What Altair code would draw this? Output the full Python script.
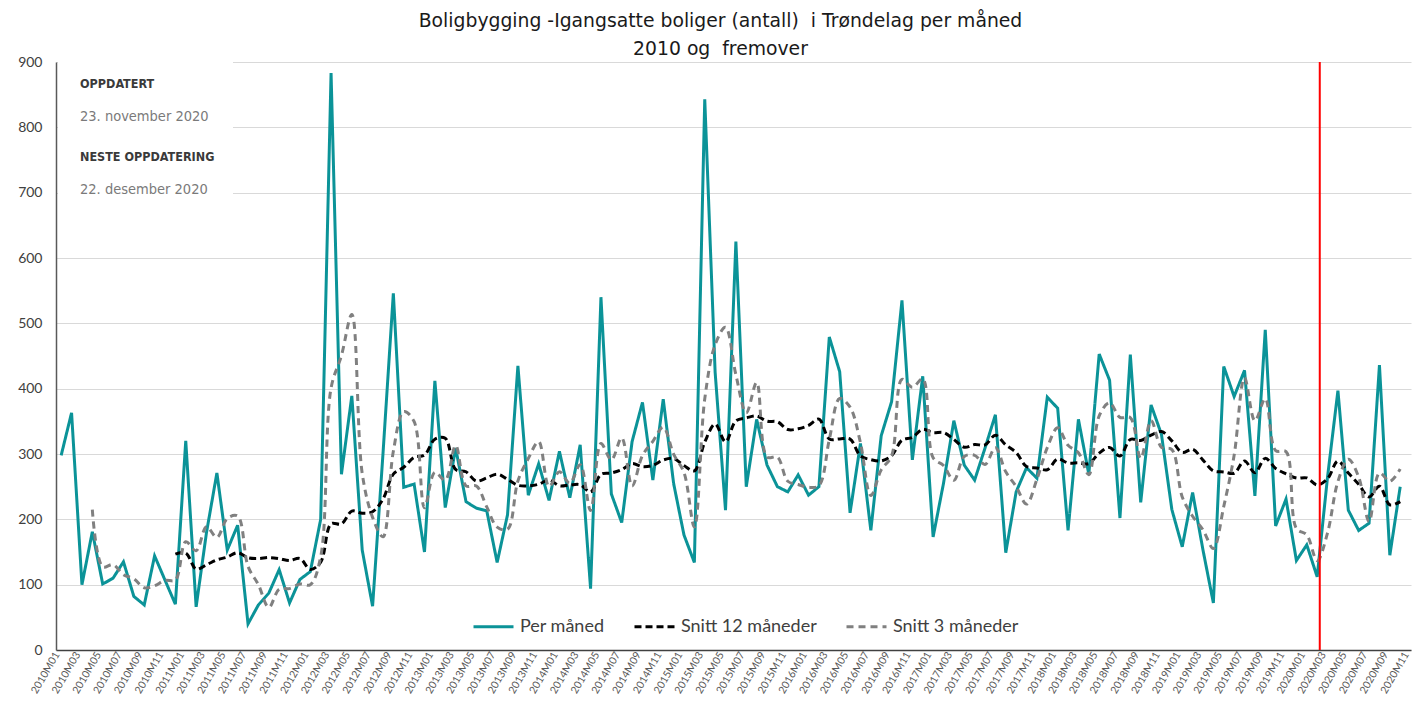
import altair as alt
import pandas as pd

# ---- categories (x-axis tick labels) ----
months = [f"{y}M{m:02d}" for y in range(2010, 2021) for m in range(1, 13)][:131]

# ---- series values ----
per_maned = [
    298, 363, 100, 181, 101, 110, 135, 82, 69, 144,
    107, 70, 320, 66, 180, 271, 153, 191, 40, 69,
    87, 123, 72, 108, 120, 200, 883, 269, 389, 153,
    67, 300, 546, 249, 254, 150, 412, 218, 309, 227,
    217, 213, 134, 207, 435, 237, 285, 229, 304, 233,
    314, 94, 540, 239, 195, 319, 379, 260, 384, 255,
    176, 134, 843, 425, 214, 625, 250, 353, 283, 250,
    242, 268, 237, 250, 479, 426, 210, 316, 183, 328,
    380, 535, 291, 419, 173, 255, 351, 283, 260, 309,
    360, 149, 242, 279, 263, 387, 370, 183, 353, 269,
    453, 413, 202, 452, 226, 375, 330, 215, 158, 241,
    153, 72, 434, 388, 428, 236, 490, 190, 231, 137,
    161, 112, 265, 397, 214, 183, 194, 436, 145, 250,
]
start_per_maned = "2010M01"

snitt_12 = [
    146.7, 148.5, 123.8, 130.4, 137.9, 142.3, 149.0, 141.1, 140.0, 141.5,
    139.8, 136.8, 140.0, 123.3, 134.5, 193.1, 192.9, 212.6, 209.4, 211.7,
    230.9, 269.2, 279.7, 294.8, 298.3, 322.7, 324.2, 276.3, 272.8, 258.5,
    263.5, 269.1, 261.3, 252.1, 251.1, 253.7, 260.3, 251.3, 252.5, 252.9,
    241.8, 268.8, 270.9, 276.0, 285.3, 280.7, 282.6, 290.8, 293.0, 282.3,
    274.1, 318.2, 345.8, 318.6, 350.8, 355.3, 358.2, 350.2, 349.3, 337.5,
    338.6, 343.7, 353.3, 323.0, 323.1, 322.8, 297.0, 291.4, 289.3, 297.4,
    321.2, 325.3, 337.8, 332.5, 332.9, 322.3, 310.3, 314.5, 313.9, 328.7,
    313.8, 302.3, 280.9, 278.6, 275.9, 292.3, 286.3, 286.5, 285.3, 301.4,
    310.1, 296.9, 322.2, 320.8, 328.8, 334.4, 320.1, 302.4, 307.3, 290.6,
    274.2, 272.6, 270.5, 289.3, 271.3, 293.3, 277.9, 269.7, 263.2, 263.4,
    252.7, 262.0, 289.1, 270.8, 253.7, 234.2, 250.8, 222.1, 227.1,
]
start_snitt_12 = "2010M12"

snitt_3 = [
    214.7, 127.3, 130.7, 115.3, 109.0, 95.3, 98.3, 106.7, 107.0, 165.7,
    152.0, 188.7, 172.3, 201.3, 205.0, 128.0, 100.0, 65.3, 93.0, 94.0,
    101.0, 100.0, 142.7, 401.0, 450.7, 513.7, 270.3, 203.0, 173.3, 304.3,
    365.0, 349.7, 217.7, 272.0, 260.0, 313.0, 251.3, 251.0, 219.0, 188.0,
    184.7, 258.7, 293.0, 319.0, 250.3, 272.7, 255.3, 283.7, 213.7, 316.0,
    291.0, 324.7, 251.0, 297.7, 319.3, 341.0, 299.7, 271.7, 188.3, 384.3,
    467.3, 494.0, 421.3, 363.0, 409.3, 295.3, 295.3, 258.3, 253.3, 249.0,
    251.7, 322.0, 385.0, 371.7, 317.3, 236.3, 275.7, 297.0, 414.3, 402.0,
    415.0, 294.3, 282.3, 259.7, 296.3, 298.0, 284.0, 309.7, 272.7, 250.3,
    223.3, 261.3, 309.7, 340.0, 313.3, 302.0, 268.3, 358.3, 378.3, 356.0,
    355.7, 293.3, 351.0, 310.3, 306.7, 234.3, 204.7, 184.0, 155.3, 219.7,
    298.0, 416.7, 350.7, 384.7, 305.3, 303.7, 186.0, 176.3, 136.7, 179.3,
    258.0, 292.0, 264.7, 197.0, 271.0, 258.3, 277.0,
]
start_snitt_3 = "2010M04"

# red marker line (position in month-index units, between 2020M02 and 2020M03)
marker_pos = [121.25]

series_names = ["Per måned", "Snitt 12 måneder", "Snitt 3 måneder"]
series_colors = ["#0b9398", "#000000", "#808080"]
series_dash = [[1, 0], [7, 4], [7, 5]]

title_lines = ["Boligbygging -Igangsatte boliger (antall)\u00a0 i Trøndelag per måned",
               "2010 og\u00a0 fremover"]
note_heads = ["OPPDATERT", "NESTE OPPDATERING"]
note_dates = ["23. november 2020", "22. desember 2020"]


def rows_for(name, values, start):
    off = months.index(start)
    return [{"i": off + k, "month": months[off + k], "serie": name, "v": v}
            for k, v in enumerate(values)]


df_month = pd.DataFrame(rows_for(series_names[0], per_maned, start_per_maned))
df_avg = pd.DataFrame(rows_for(series_names[1], snitt_12, start_snitt_12)
                      + rows_for(series_names[2], snitt_3, start_snitt_3))

W, H = 1355, 588
X_MAX = -0.5 + W / 10.38

label_array = "[" + ",".join(f"'{m}'" for m in months) + "]"

x_enc = alt.X(
    "i:Q",
    scale=alt.Scale(domain=[-0.5, X_MAX], nice=False, zero=False),
    axis=alt.Axis(
        values=list(range(0, 131, 2)), tickCount=500,
        labelExpr=label_array + "[datum.value]",
        labelAngle=-60, labelAlign="right", labelBaseline="bottom",
        labelFontSize=10.5, labelColor="#595959", labelFont="Lato",
        labelPadding=5, labelOverlap=False, labelBound=False,
        ticks=False, grid=False, domainColor="#404040", domainWidth=1.5,
        title=None,
    ),
)
y_enc = alt.Y(
    "v:Q",
    scale=alt.Scale(domain=[0, 900], nice=False),
    axis=alt.Axis(
        values=list(range(0, 901, 100)), grid=True, gridColor="#d9d9d9",
        gridWidth=1, ticks=False, domainColor="#595959", domainWidth=1.5,
        labelFontSize=14, labelColor="#404040", labelFont="Lato",
        labelPadding=14, title=None,
    ),
)

legend_props = dict(
    orient="none", legendX=416, legendY=543, direction="horizontal",
    title=None, symbolType="stroke", symbolSize=1600, symbolStrokeWidth=3,
    labelFontSize=18, labelFont="Lato", labelColor="#404040",
    columnPadding=23, labelOffset=5, padding=0, labelLimit=400,
)
color_enc = alt.Color("serie:N",
                      scale=alt.Scale(domain=series_names, range=series_colors),
                      legend=alt.Legend(**legend_props))
dash_enc = alt.StrokeDash("serie:N",
                          scale=alt.Scale(domain=series_names, range=series_dash),
                          legend=alt.Legend(**legend_props))

# white box behind the update notes (hides gridlines there, as in the original)
box = alt.Chart(pd.DataFrame({"a": [0]})).mark_rect(color="white").encode(
    x=alt.value(2), x2=alt.value(177), y=alt.value(0), y2=alt.value(153)
)

line_month = alt.Chart(df_month).mark_line(strokeWidth=3).encode(
    x=x_enc, y=y_enc, color=color_enc, strokeDash=dash_enc
)
line_avg = alt.Chart(df_avg).mark_line(strokeWidth=3, interpolate="catmull-rom").encode(
    x=x_enc, y=y_enc, color=color_enc, strokeDash=dash_enc
)

marker = alt.Chart(pd.DataFrame({"i": marker_pos})).mark_rule(
    color="#ff0000", strokeWidth=2
).encode(x=alt.X("i:Q"))

narrow = "Liberation Sans Narrow, DejaVu Sans Condensed, Roboto, sans-serif"
heads = alt.Chart(pd.DataFrame({"t": note_heads, "yy": [26, 99]})).mark_text(
    align="left", baseline="alphabetic", font=narrow, fontSize=12.5,
    fontWeight="bold", color="#3a3a3a"
).encode(text="t:N", x=alt.value(24), y=alt.Y("yy:Q", scale=None))
dates = alt.Chart(pd.DataFrame({"t": note_dates, "yy": [59, 132]})).mark_text(
    align="left", baseline="alphabetic", font=narrow, fontSize=14.5,
    color="#7a7a7a"
).encode(text="t:N", x=alt.value(24), y=alt.Y("yy:Q", scale=None))

chart = alt.layer(box, line_month, line_avg, marker, heads, dates).properties(
    width=W, height=H,
    title=alt.TitleParams(
        text=title_lines, fontSize=18.8, font="DejaVu Sans", fontWeight="normal",
        color="#1a1a1a", anchor="middle", dx=-13, dy=10, offset=6, lineHeight=28,
    ),
    padding={"left": 48, "top": 54, "right": 2, "bottom": 47},
    autosize=alt.AutoSizeParams(type="none"),
).configure_view(stroke=None)

chart.save("out.html", embed_options={"renderer": "svg", "actions": False})
